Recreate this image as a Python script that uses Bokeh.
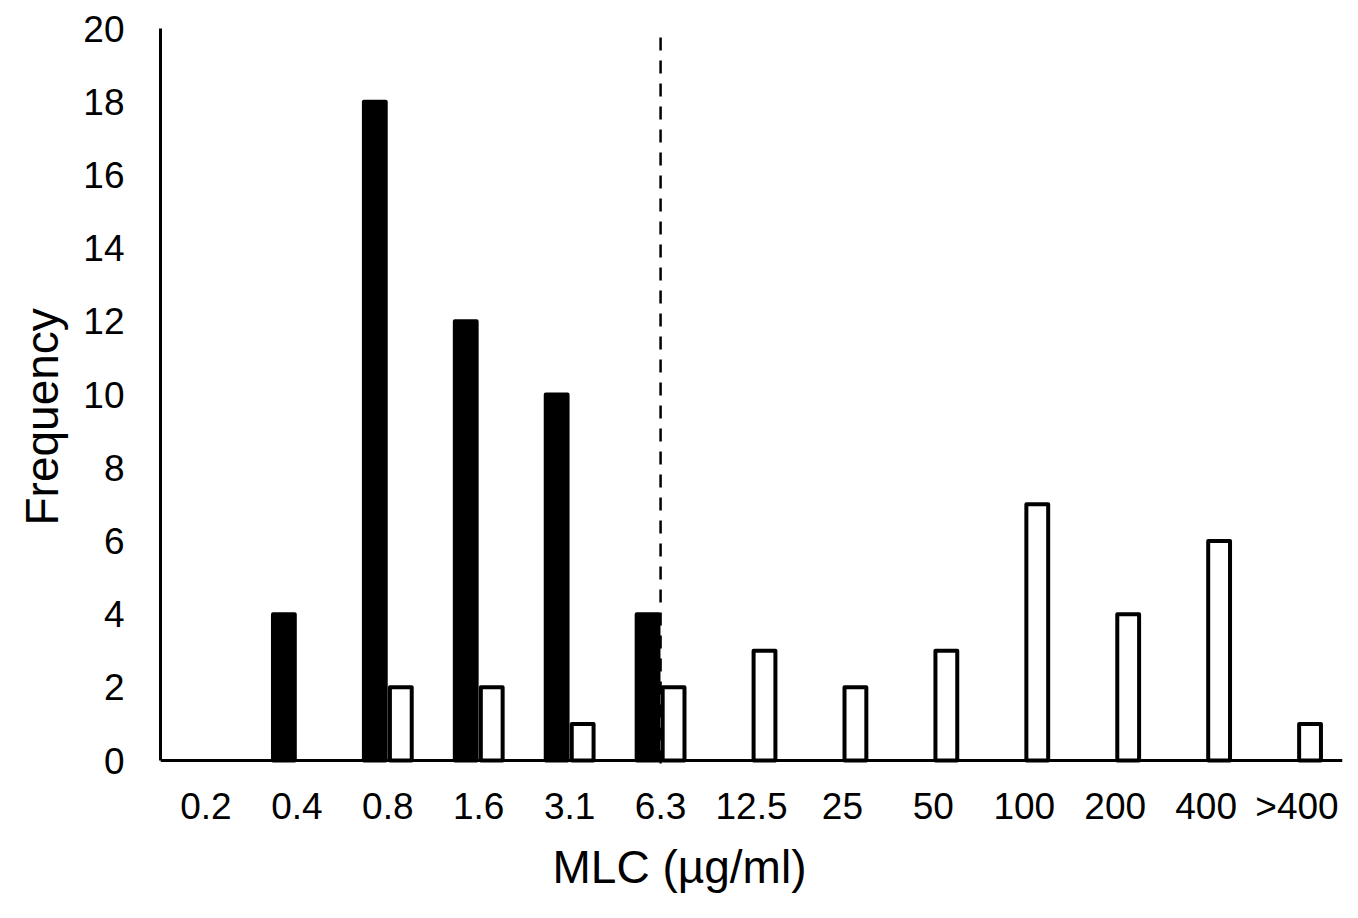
from bokeh.plotting import figure
from bokeh.models import FactorRange, Range1d, FixedTicker, Span, Title
from bokeh.transform import dodge
from bokeh.embed import file_html
from bokeh.resources import INLINE

categories = ["0.2", "0.4", "0.8", "1.6", "3.1", "6.3", "12.5", "25", "50", "100", "200", "400", ">400"]
black_counts = [0, 4, 18, 12, 10, 4, 0, 0, 0, 0, 0, 0, 0]
white_counts = [0, 0, 2, 2, 1, 2, 3, 2, 3, 7, 4, 6, 1]
y_ticks = [0, 2, 4, 6, 8, 10, 12, 14, 16, 18, 20]
cutoff_category = "6.3"
x_title = "MLC (µg/ml)"
y_title = "Frequency"

FONT = "Liberation Sans"

p = figure(width=1350, height=902,
           x_range=FactorRange(*categories),
           y_range=Range1d(-0.19, 20),
           output_backend="svg", toolbar_location=None,
           min_border_left=160, min_border_right=8,
           min_border_top=28, min_border_bottom=135)
p.outline_line_color = None
p.xgrid.grid_line_color = None
p.ygrid.grid_line_color = None
p.background_fill_color = "white"
p.border_fill_color = "white"

bx = [c for c, v in zip(categories, black_counts) if v > 0]
bv = [v for v in black_counts if v > 0]
wx = [c for c, v in zip(categories, white_counts) if v > 0]
wv = [v for v in white_counts if v > 0]

p.vbar(x=dodge("x", -0.143, range=p.x_range), top="top", bottom=0, width=0.24,
       source=dict(x=bx, top=bv), fill_color="black", line_color="black",
       line_width=4, line_join="round")
p.vbar(x=dodge("x", 0.143, range=p.x_range), top="top", bottom=0, width=0.24,
       source=dict(x=wx, top=wv), fill_color="white", line_color="black",
       line_width=4, line_join="round")

# cutoff dashed line
p.segment(x0=[cutoff_category], y0=[p.y_range.start], x1=[cutoff_category], y1=[y_ticks[-1]],
          line_color="black", line_width=2.5, line_dash="13 10", line_dash_offset=-4)

# x baseline
p.add_layout(Span(location=0, dimension="width", line_color="black", line_width=3))

# y axis
p.yaxis.ticker = FixedTicker(ticks=y_ticks)
p.yaxis.bounds = (0, 20)
p.yaxis.axis_line_width = 3
p.yaxis.axis_line_color = "black"
p.yaxis.major_tick_line_color = None
p.yaxis.minor_tick_line_color = None
p.yaxis.major_tick_out = 0
p.yaxis.major_tick_in = 0
p.yaxis.major_label_standoff = 36
p.yaxis.major_label_text_font = FONT
p.yaxis.major_label_text_font_size = "37px"
p.yaxis.major_label_text_color = "black"

# x axis
p.xaxis.axis_line_color = None
p.xaxis.major_tick_line_color = None
p.xaxis.minor_tick_line_color = None
p.xaxis.major_tick_out = 0
p.xaxis.major_tick_in = 0
p.xaxis.major_label_standoff = 18
p.xaxis.major_label_text_font = FONT
p.xaxis.major_label_text_font_size = "37px"
p.xaxis.major_label_text_color = "black"

p.add_layout(Title(text=x_title, align="left", offset=392, text_font=FONT,
                   text_font_size="46px", text_font_style="normal",
                   text_color="black", standoff=18), "below")
p.add_layout(Title(text=y_title, align="left", offset=242, text_font=FONT,
                   text_font_size="46px", text_font_style="normal",
                   text_color="black", standoff=26), "left")

open("out.html", "w").write(file_html(p, INLINE))
